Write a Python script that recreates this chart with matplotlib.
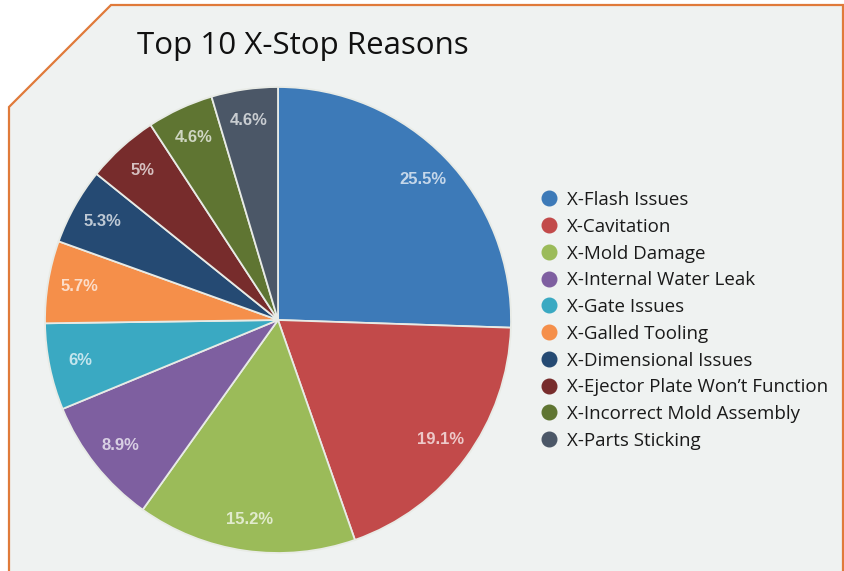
import matplotlib
matplotlib.use("Agg")
import matplotlib.pyplot as plt
from matplotlib.patches import Polygon
from matplotlib.lines import Line2D
import matplotlib.colors as mcolors
import numpy as np

categories = ["X-Flash Issues", "X-Cavitation", "X-Mold Damage", "X-Internal Water Leak",
              "X-Gate Issues", "X-Galled Tooling", "X-Dimensional Issues",
              "X-Ejector Plate Won\u2019t Function", "X-Incorrect Mold Assembly", "X-Parts Sticking"]
values = [25.5, 19.1, 15.2, 8.9, 6.0, 5.7, 5.3, 5.0, 4.6, 4.6]
pct_labels = ["25.5%", "19.1%", "15.2%", "8.9%", "6%", "5.7%", "5.3%", "5%", "4.6%", "4.6%"]
colors = ["#3d7ab8", "#c24a4a", "#9bbb59", "#7e5fa0", "#3aa9c2", "#f58f4a",
          "#254a73", "#772c2c", "#5f7532", "#4b5767"]
title = "Top 10 X-Stop Reasons"

W, H = 845, 571
fig = plt.figure(figsize=(W / 100, H / 100), dpi=100)
fig.patch.set_facecolor("white")

# background panel with cut corner
bg = Polygon([(9, H - 107), (111, H - 5), (843, H - 5), (843, -20), (9, -20)],
             closed=True, facecolor="#eff2f1", edgecolor="#e07a3a", linewidth=1.6,
             transform=None, zorder=-5)
fig.patches.append(bg)

cx, cy, r = 278, H - 320, 233
ax = fig.add_axes([(cx - r) / W, (cy - r) / H, 2 * r / W, 2 * r / H], zorder=2)
ax.set_facecolor("none")
wedges, texts = ax.pie(values, colors=colors, startangle=90, counterclock=False,
                       radius=1.0, labels=pct_labels, labeldistance=0.865,
                       wedgeprops=dict(edgecolor="#e8ebe6", linewidth=1.3))
for t, c in zip(texts, colors):
    rgb = np.array(mcolors.to_rgb(c))
    tint = rgb + (1 - rgb) * 0.7
    t.set_color(tint)
    t.set_ha("center")
    t.set_va("center")
    t.set_fontsize(12)
    t.set_fontweight("bold")
    t.set_family("Liberation Sans")
ax.set_xlim(-1, 1)
ax.set_ylim(-1, 1)
ax.set_aspect("equal")
ax.axis("off")

fig.text(137 / W, 1 - 46 / H, title, fontsize=22.5, family="Open Sans",
         fontweight="medium", color="#111111", va="center", ha="left")

handles = [Line2D([0], [0], marker="o", linestyle="none", markersize=10.5,
                  markerfacecolor=c, markeredgecolor=c) for c in colors]
leg = fig.legend(handles, categories, loc="upper left",
                 bbox_to_anchor=(542 / W, 1 - 191 / H), frameon=False,
                 handlelength=0.8, handletextpad=0.55, labelspacing=0.467,
                 prop=dict(family="Open Sans", size=13.5, weight="medium"),
                 borderaxespad=0, borderpad=0)
for t in leg.get_texts():
    t.set_color("#1a1a1a")

fig.savefig("out.png", dpi=100, facecolor="white")
